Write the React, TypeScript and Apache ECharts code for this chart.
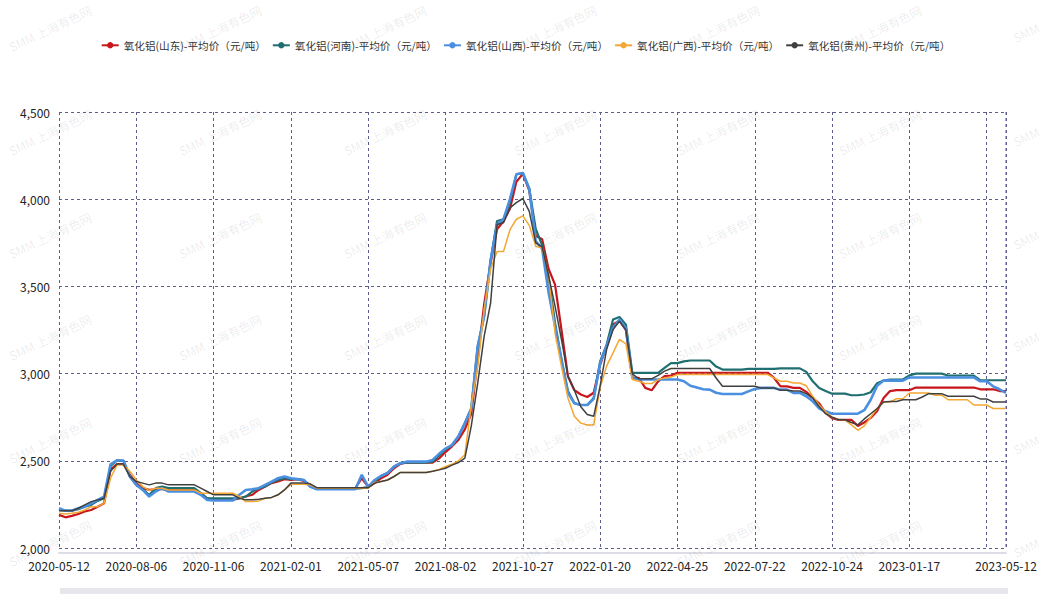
import React, { useEffect, useRef } from 'react';
import * as echarts from 'echarts';

// Visible tick labels of the category axis (the last gap is longer)
const labelDates = [
  '2020-05-12', '2020-08-06', '2020-11-06', '2021-02-01', '2021-05-07', '2021-08-02',
  '2021-10-27', '2022-01-20', '2022-04-25', '2022-07-22', '2022-10-24', '2023-01-17', '2023-05-12',
];
const stepsBetween = [12, 12, 12, 12, 12, 12, 12, 12, 12, 12, 12, 15];

function buildCategories(): string[] {
  const out: string[] = [];
  for (let k = 0; k < labelDates.length - 1; k++) {
    const a = Date.parse(labelDates[k] + 'T00:00:00Z');
    const b = Date.parse(labelDates[k + 1] + 'T00:00:00Z');
    const n = stepsBetween[k];
    const days = (b - a) / 86400000;
    for (let j = 0; j < n; j++) {
      const t = a + Math.round((days * j) / n) * 86400000;
      out.push(new Date(t).toISOString().slice(0, 10));
    }
  }
  out.push(labelDates[labelDates.length - 1]);
  return out;
}
const categories = buildCategories();

const seriesNames = [
  '氧化铝(山东)-平均价（元/吨）',
  '氧化铝(河南)-平均价（元/吨）',
  '氧化铝(山西)-平均价（元/吨）',
  '氧化铝(广西)-平均价（元/吨）',
  '氧化铝(贵州)-平均价（元/吨）',
];

const shandong = [
  2190, 2176, 2184, 2195, 2209, 2218, 2237, 2256, 2450, 2481,
  2481, 2420, 2370, 2343, 2333, 2337, 2337, 2333, 2333, 2333,
  2333, 2333, 2314, 2285, 2276, 2276, 2276, 2276, 2285, 2295,
  2305, 2333, 2352, 2372, 2381, 2395, 2390, 2395, 2385, 2362,
  2343, 2343, 2343, 2343, 2343, 2343, 2343, 2400, 2350, 2372,
  2400, 2420, 2457, 2482, 2490, 2490, 2490, 2490, 2490, 2514,
  2550, 2583, 2620, 2680, 2770, 3080, 3400, 3635, 3828, 3875,
  3945, 4100, 4145, 4050, 3790, 3770, 3600, 3510, 3250, 2985,
  2905, 2880, 2866, 2890, 3050, 3157, 3282, 3304, 3250, 2975,
  2975, 2918, 2904, 2956, 2985, 2989, 3005, 3005, 3005, 3005,
  3005, 3005, 3005, 3005, 3005, 3005, 3005, 3005, 3005, 3005,
  3005, 2975, 2927, 2927, 2918, 2918, 2895, 2860, 2830, 2775,
  2745, 2735, 2735, 2735, 2700, 2720, 2746, 2785, 2860, 2900,
  2905, 2905, 2905, 2920, 2920, 2920, 2920, 2920, 2920, 2920,
  2920, 2920, 2920, 2910, 2910, 2910, 2900, 2900,
];

const henan = [
  2218, 2214, 2214, 2222, 2237, 2247, 2270, 2285, 2470, 2502,
  2500, 2410, 2362, 2338, 2304, 2343, 2352, 2343, 2343, 2343,
  2343, 2343, 2314, 2285, 2285, 2285, 2285, 2285, 2285, 2295,
  2324, 2343, 2352, 2376, 2390, 2400, 2395, 2395, 2390, 2352,
  2340, 2340, 2340, 2340, 2340, 2340, 2340, 2343, 2350, 2381,
  2413, 2430, 2467, 2486, 2490, 2490, 2490, 2490, 2495, 2530,
  2565, 2590, 2640, 2716, 2800, 3157, 3330, 3650, 3875, 3885,
  3980, 4143, 4150, 4060, 3830, 3735, 3550, 3290, 3080, 2900,
  2830, 2820, 2820, 2860, 3070, 3165, 3310, 3325, 3280, 3004,
  3004, 3004, 3004, 3004, 3033, 3060, 3060, 3070, 3075, 3075,
  3075, 3075, 3040, 3023, 3023, 3023, 3023, 3027, 3027, 3027,
  3027, 3027, 3030, 3030, 3030, 3030, 3010, 2956, 2918, 2900,
  2885, 2885, 2885, 2876, 2876, 2880, 2893, 2945, 2960, 2966,
  2966, 2966, 2990, 3000, 3000, 3000, 3000, 3000, 2989, 2989,
  2989, 2989, 2989, 2962, 2962, 2962, 2962, 2962,
];

const shanxi = [
  2228, 2214, 2214, 2228, 2237, 2256, 2276, 2295, 2480, 2502,
  2502, 2410, 2362, 2333, 2295, 2324, 2343, 2324, 2324, 2324,
  2324, 2324, 2305, 2276, 2272, 2272, 2272, 2272, 2305, 2333,
  2337, 2343, 2362, 2381, 2400, 2410, 2400, 2395, 2390, 2352,
  2337, 2337, 2337, 2337, 2337, 2337, 2337, 2420, 2350, 2390,
  2413, 2430, 2467, 2486, 2495, 2495, 2495, 2495, 2505, 2540,
  2570, 2590, 2640, 2716, 2800, 3157, 3330, 3650, 3855, 3885,
  4000, 4143, 4150, 4060, 3760, 3715, 3465, 3272, 3080, 2890,
  2830, 2820, 2820, 2855, 3060, 3157, 3263, 3310, 3260, 2975,
  2966, 2966, 2966, 2966, 2966, 2966, 2966, 2956, 2930, 2920,
  2910, 2908, 2890, 2883, 2883, 2883, 2883, 2898, 2912, 2918,
  2918, 2918, 2908, 2908, 2889, 2889, 2870, 2841, 2800, 2784,
  2770, 2770, 2770, 2770, 2770, 2790, 2850, 2930, 2960, 2960,
  2960, 2960, 2978, 2978, 2978, 2978, 2978, 2978, 2978, 2978,
  2978, 2978, 2978, 2956, 2956, 2927, 2910, 2889,
];

const guangxi = [
  2199, 2195, 2199, 2205, 2218, 2237, 2237, 2256, 2400, 2477,
  2477, 2440, 2390, 2352, 2330, 2343, 2343, 2333, 2333, 2333,
  2333, 2333, 2314, 2314, 2314, 2314, 2314, 2314, 2295, 2266,
  2266, 2270, 2285, 2290, 2305, 2333, 2365, 2365, 2365, 2362,
  2343, 2343, 2343, 2343, 2343, 2343, 2343, 2343, 2343, 2376,
  2381, 2390, 2410, 2433, 2433, 2433, 2433, 2433, 2440, 2450,
  2467, 2480, 2500, 2535, 2820, 3040, 3368, 3600, 3700, 3700,
  3825, 3885, 3904, 3850, 3730, 3720, 3560, 3233, 3040, 2860,
  2755, 2716, 2705, 2705, 2920, 3043, 3119, 3196, 3170, 2966,
  2956, 2943, 2943, 2966, 2975, 2980, 2995, 2995, 2995, 2995,
  2995, 2995, 2995, 2995, 2995, 2995, 2995, 2995, 2995, 2995,
  2995, 2975, 2956, 2956, 2946, 2946, 2930, 2870, 2820, 2780,
  2750, 2735, 2735, 2706, 2675, 2700, 2750, 2800, 2837, 2837,
  2856, 2856, 2889, 2889, 2889, 2889, 2876, 2876, 2850, 2850,
  2850, 2850, 2820, 2820, 2820, 2800, 2800, 2800,
];

const guizhou = [
  2214, 2214, 2214, 2228, 2247, 2266, 2276, 2285, 2440, 2481,
  2481, 2410, 2381, 2372, 2362, 2372, 2372, 2362, 2362, 2362,
  2362, 2362, 2343, 2324, 2305, 2305, 2305, 2305, 2285, 2276,
  2276, 2280, 2285, 2290, 2305, 2333, 2372, 2372, 2372, 2368,
  2346, 2346, 2346, 2346, 2346, 2346, 2346, 2346, 2346, 2372,
  2381, 2390, 2410, 2433, 2433, 2433, 2433, 2433, 2440, 2448,
  2457, 2475, 2490, 2515, 2700, 2946, 3215, 3406, 3855, 3865,
  3950, 3980, 4004, 3930, 3750, 3727, 3560, 3387, 3195, 2985,
  2905, 2810, 2765, 2755, 2930, 3138, 3253, 3300, 3250, 2998,
  2970, 2970, 2970, 2990, 3014, 3029, 3029, 3029, 3029, 3029,
  3029, 3029, 2975, 2927, 2927, 2927, 2927, 2927, 2927, 2918,
  2918, 2918, 2904, 2904, 2900, 2900, 2885, 2860, 2810, 2770,
  2750, 2735, 2735, 2720, 2706, 2740, 2770, 2800, 2837, 2840,
  2840, 2850, 2850, 2850, 2866, 2885, 2885, 2885, 2870, 2870,
  2870, 2870, 2870, 2855, 2855, 2837, 2837, 2837,
];

const seriesData = [shandong, henan, shanxi, guangxi, guizhou];
const seriesColors = ['#c8161d', '#1f6e70', '#4a8fe0', '#f4a732', '#404040'];
const seriesWidths = [2.2, 2.2, 2.6, 1.5, 1.5];

const wmCols = [50, 220, 385, 555, 718, 880];
const wmRows = [28, 132, 235, 337, 440, 543];

const FONT = '"Noto Sans CJK SC", "Noto Sans", sans-serif';

export default function App() {
  const ref = useRef<HTMLDivElement>(null);
  useEffect(() => {
    if (!ref.current) return;
    const chart = echarts.init(ref.current, null, { renderer: 'svg' });
    const gridColor = '#5b5e8c';
    const watermarks: any[] = [];
    wmRows.forEach((y) => {
      wmCols.forEach((x) => {
        watermarks.push({
          type: 'text',
          x,
          y,
          rotation: 0.44,
          silent: true,
          z: 100,
          style: {
            text: 'SMM 上海有色网',
            fill: 'rgba(0,0,0,0.09)',
            font: '12px ' + FONT,
            align: 'center',
            verticalAlign: 'middle',
          },
        });
      });
      // right edge: only the beginning of the watermark is visible
      watermarks.push({
        type: 'text',
        x: 1014,
        y: y + 10,
        rotation: 0.44,
        silent: true,
        z: 100,
        style: {
          text: 'SMM',
          fill: 'rgba(0,0,0,0.09)',
          font: '12px ' + FONT,
          align: 'left',
          verticalAlign: 'middle',
        },
      });
    });
    chart.setOption({
      animation: false,
      backgroundColor: '#ffffff',
      textStyle: { fontFamily: FONT },
      legend: {
        top: 35,
        left: 'center',
        itemGap: 6,
        itemWidth: 17,
        itemHeight: 8,
        textStyle: { fontSize: 10.6, color: '#333', fontFamily: FONT },
        data: seriesNames,
      },
      grid: { left: 59, right: 45, top: 112, bottom: 58 },
      xAxis: {
        type: 'category',
        boundaryGap: false,
        data: categories,
        offset: 5,
        axisLine: { show: true, lineStyle: { color: '#dcdde6', width: 2 } },
        axisTick: { show: false },
        axisLabel: {
          interval: 11,
          showMaxLabel: true,
          color: '#222',
          fontSize: 12,
          margin: 6,
          fontFamily: FONT,
        },
        splitLine: {
          show: true,
          interval: 11,
          lineStyle: { color: gridColor, type: [3, 3], width: 1 },
        },
      },
      yAxis: {
        type: 'value',
        min: 2000,
        max: 4500,
        interval: 500,
        axisLine: { show: false },
        axisTick: { show: false },
        axisLabel: { color: '#222', fontSize: 12, margin: 9, fontFamily: FONT },
        splitLine: { show: true, lineStyle: { color: gridColor, type: [3, 3], width: 1 } },
      },
      graphic: [
        {
          type: 'rect',
          silent: true,
          shape: { x: 60, y: 588, width: 948, height: 6 },
          style: { fill: '#e6e6ec' },
        },
        {
          type: 'line',
          silent: true,
          shape: { x1: 1006, y1: 112, x2: 1006, y2: 548 },
          style: { stroke: gridColor, lineDash: [3, 3], lineWidth: 1 },
        },
        ...watermarks,
      ],
      series: seriesNames.map((name, i) => ({
        name,
        type: 'line',
        data: seriesData[i],
        symbol: 'circle',
        symbolSize: 6,
        showSymbol: false,
        color: seriesColors[i],
        lineStyle: { width: seriesWidths[i], color: seriesColors[i] },
      })),
    });
    return () => chart.dispose();
  }, []);
  return (
    <div
      ref={ref}
      style={{ position: 'fixed', left: 0, top: 0, width: 1051, height: 606 }}
    />
  );
}
